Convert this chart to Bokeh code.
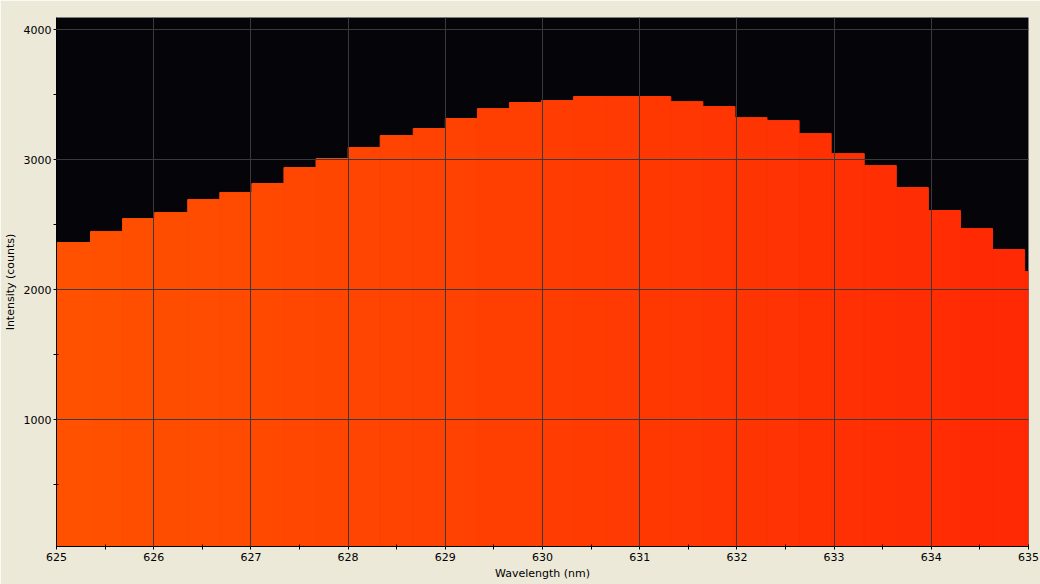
from bokeh.plotting import figure
from bokeh.models import Range1d, FixedTicker, ColumnDataSource
from bokeh.embed import file_html
from bokeh.resources import INLINE

# ---- data ----
bin_start_nm = [625.02, 625.35, 625.68, 626.01, 626.35, 626.68, 627.01, 627.34,
                627.67, 628.00, 628.33, 628.67, 629.00, 629.33, 629.66, 629.99,
                630.32, 630.65, 630.99, 631.32, 631.65, 631.98, 632.31, 632.64,
                632.97, 633.31, 633.64, 633.97, 634.30, 634.63, 634.96]
intensity_counts = [2364, 2449, 2548, 2595, 2695, 2749, 2818, 2941, 3010, 3095,
                    3187, 3241, 3318, 3394, 3441, 3456, 3487, 3487, 3487, 3448,
                    3410, 3325, 3302, 3202, 3048, 2956, 2787, 2610, 2472, 2310,
                    2141]
x_major_ticks = [625, 626, 627, 628, 629, 630, 631, 632, 633, 634, 635]
x_minor_ticks = [625.5, 626.5, 627.5, 628.5, 629.5, 630.5, 631.5, 632.5, 633.5, 634.5]
y_major_ticks = [1000, 2000, 3000, 4000]
y_minor_ticks = [500, 1500, 2500, 3500]

X0, X1 = 625, 635
Y0, Y1 = 25, 4095
BIN_W = 0.332
C_LEFT = (255, 82, 0)
C_RIGHT = (255, 40, 4)

def grad_color(x):
    t = max(0.0, min(1.0, (x - X0) / (X1 - X0)))
    r = round(C_LEFT[0] + (C_RIGHT[0] - C_LEFT[0]) * t)
    g = round(C_LEFT[1] + (C_RIGHT[1] - C_LEFT[1]) * t)
    b = round(C_LEFT[2] + (C_RIGHT[2] - C_LEFT[2]) * t)
    return "#%02x%02x%02x" % (r, g, b)

n = len(bin_start_nm)
lefts = [X0 - 0.05] + bin_start_nm[1:]
rights = bin_start_nm[1:] + [bin_start_nm[-1] + BIN_W]
colors = [grad_color((lefts[i] + rights[i]) / 2) for i in range(n)]
src = ColumnDataSource(dict(left=lefts, right=rights, top=intensity_counts, color=colors))

p = figure(width=1032, height=584, output_backend="svg", toolbar_location=None,
           x_range=Range1d(X0, X1), y_range=Range1d(Y0, Y1),
           frame_width=972, frame_height=529,
           min_border_left=48, min_border_right=12, min_border_top=17, min_border_bottom=38)
p.background_fill_color = "#050408"
p.border_fill_color = "#ECE9D8"
p.outline_line_color = None

p.quad(left="left", right="right", bottom=Y0 - 100, top="top", source=src,
       fill_color="color", line_color="color", line_width=1)

p.xaxis.ticker = FixedTicker(ticks=x_major_ticks, minor_ticks=x_minor_ticks)
p.yaxis.ticker = FixedTicker(ticks=y_major_ticks, minor_ticks=y_minor_ticks)

for ax in (p.xaxis[0], p.yaxis[0]):
    ax.axis_line_color = "black"
    ax.major_tick_line_color = "black"
    ax.minor_tick_line_color = "black"
    ax.major_tick_in = 2
    ax.major_tick_out = 3
    ax.minor_tick_in = 2
    ax.minor_tick_out = 3
    ax.major_label_text_font = "DejaVu Sans"
    ax.major_label_text_font_size = "11px"
    ax.major_label_text_color = "black"
    ax.axis_label_text_font = "DejaVu Sans"
    ax.axis_label_text_font_size = "11px"
    ax.axis_label_text_font_style = "normal"
    ax.axis_label_text_color = "black"
    ax.major_label_standoff = 3

p.yaxis.major_label_standoff = 2
p.xaxis.axis_label = "Wavelength (nm)"
p.yaxis.axis_label = "Intensity (counts)"
p.xaxis.axis_label_standoff = 3
p.yaxis.axis_label_standoff = 4

for g in (p.xgrid[0], p.ygrid[0]):
    g.grid_line_color = "#3a3a3a"
    g.grid_line_width = 1
    g.level = "overlay"

open("out.html", "w").write(file_html(p, INLINE))
